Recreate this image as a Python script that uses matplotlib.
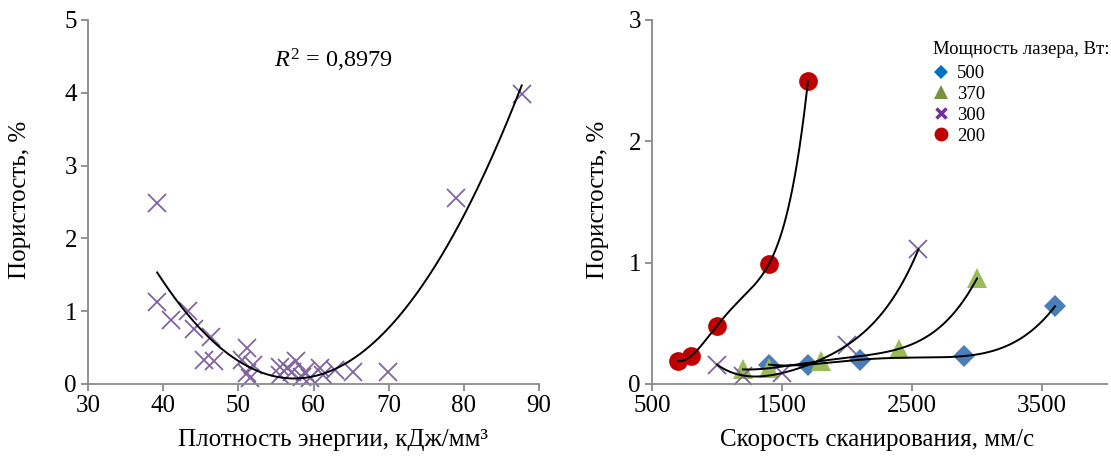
import numpy as np
import matplotlib
matplotlib.use("Agg")
import matplotlib.pyplot as plt
from matplotlib.lines import Line2D

plt.rcParams['font.family'] = ['Liberation Serif', 'DejaVu Serif']
plt.rcParams['mathtext.fontset'] = 'custom'
plt.rcParams['mathtext.rm'] = 'Liberation Serif'
plt.rcParams['mathtext.it'] = 'Liberation Serif:italic'

# ---- Left chart data: energy density vs porosity ----
energy = [39.2, 39.2, 41.1, 43.3, 44.1, 46.3, 45.4, 46.8, 51.2, 50.5, 52.0, 51.2,
          51.5, 55.5, 55.5, 57.7, 57.1, 58.9, 58.5, 60.9, 61.2, 62.8, 65.3, 69.9,
          78.9, 87.7, 56.5, 59.5]
porosity = [2.49, 1.12, 0.88, 1.00, 0.76, 0.65, 0.33, 0.32, 0.49, 0.33, 0.26, 0.15,
            0.08, 0.24, 0.12, 0.31, 0.17, 0.17, 0.10, 0.22, 0.13, 0.19, 0.17, 0.16,
            2.56, 3.98, 0.22, 0.08]
r2_label = "$\\mathit{R}^{\\mathrm{2}}$ = 0,8979"

# ---- Right chart data: scan speed vs porosity per laser power ----
powers = ["500", "370", "300", "200"]
speed_500 = [1400, 1700, 2100, 2900, 3600]
por_500 = [0.16, 0.16, 0.20, 0.23, 0.64]
speed_370 = [1200, 1400, 1800, 2400, 3000]
por_370 = [0.12, 0.13, 0.19, 0.29, 0.87]
speed_300 = [1000, 1200, 1500, 2000, 2550]
por_300 = [0.16, 0.07, 0.09, 0.32, 1.11]
speed_200 = [700, 800, 1000, 1400, 1700]
por_200 = [0.19, 0.23, 0.48, 0.99, 2.50]

W, H = 1111, 457
fig = plt.figure(figsize=(W / 100, H / 100), dpi=100)

def px_axes(l, r, t, b):
    return fig.add_axes([l / W, (H - b) / H, (r - l) / W, (b - t) / H])

def fpx(x, y):
    return (x / W, (H - y) / H)

axis_gray = '#898989'
def style(ax):
    for s in ['top', 'right']:
        ax.spines[s].set_visible(False)
    for s in ['left', 'bottom']:
        ax.spines[s].set_color(axis_gray)
        ax.spines[s].set_linewidth(1.3)
    ax.tick_params(direction='out', length=5, width=1.3, color=axis_gray,
                   labelsize=18, pad=3)

# Left axes
ax1 = px_axes(88, 539, 20, 384)
style(ax1)
ax1.set_xlim(30, 90)
ax1.set_ylim(0, 5)
ax1.set_xticks(np.arange(30, 91, 10))
ax1.set_yticks(np.arange(0, 6, 1))
ax1.plot(energy, porosity, linestyle='none', marker='x', markersize=13,
         markeredgewidth=1.3, color='#8064A2', clip_on=False)
coef = np.polyfit(energy, porosity, 2)
xs = np.linspace(min(energy), max(energy), 300)
ax1.plot(xs, np.polyval(coef, xs), color='black', lw=1.4)
fig.text(*fpx(274, 60), r2_label, fontsize=17.5, va='center', ha='left')
ax1.set_xlabel("Плотность энергии, кДж/мм³", fontsize=18)

# Right axes
ax2 = px_axes(652, 1107, 20, 384)
style(ax2)
ax2.set_xlim(500, 4000)
ax2.set_ylim(0, 3)
ax2.set_xticks([500, 1500, 2500, 3500])
ax2.set_yticks([0, 1, 2, 3])

series = [
    (speed_500, por_500, 'D', '#4A7EBB', 11.5),
    (speed_370, por_370, '^', '#9BBB59', 15),
    (speed_300, por_300, 'x', '#8064A2', 13),
    (speed_200, por_200, 'o', '#C00000', 13.5),
]
for xv, yv, m, c, ms in series:
    ax2.plot(xv, yv, linestyle='none', marker=m, markersize=ms, color=c,
             markeredgewidth=1.3 if m == 'x' else 0, clip_on=False)
for xv, yv, m, c, ms in series:
    cf = np.polyfit(xv, yv, 4)
    xx = np.linspace(min(xv), max(xv), 300)
    ax2.plot(xx, np.polyval(cf, xx), color='black', lw=1.4)

ax2.set_xlabel("Скорость сканирования, мм/с", fontsize=18)

ax1.xaxis.set_label_coords(*fpx(333, 440), transform=fig.transFigure)
ax2.xaxis.set_label_coords(*fpx(877, 440), transform=fig.transFigure)
ax1.xaxis.label.set_va('center')
ax2.xaxis.label.set_va('center')
ax1.set_ylabel("Пористость, %", fontsize=18)
ax2.set_ylabel("Пористость, %", fontsize=18)
ax1.yaxis.set_label_coords(*fpx(20, 200), transform=fig.transFigure)
ax2.yaxis.set_label_coords(*fpx(598, 200), transform=fig.transFigure)
ax1.yaxis.label.set_va('center')
ax2.yaxis.label.set_va('center')

handles = [
    Line2D([], [], linestyle='none', marker='D', markersize=7, color='#0070C0', markeredgewidth=0),
    Line2D([], [], linestyle='none', marker='^', markersize=10, color='#77933C', markeredgewidth=0),
    Line2D([], [], linestyle='none', marker='x', markersize=7, color='#7030A0', markeredgewidth=2.5),
    Line2D([], [], linestyle='none', marker='o', markersize=10, color='#C00000', markeredgewidth=0),
]
leg = ax2.legend(handles, powers, title="Мощность лазера, Вт:", loc='upper left',
                 bbox_to_anchor=fpx(933, 41), bbox_transform=fig.transFigure,
                 frameon=False, alignment='left', fontsize=13.5, title_fontsize=13.5,
                 handlelength=0.8, handletextpad=0.5, borderpad=0, labelspacing=0.2,
                 borderaxespad=0)
leg._legend_box.sep = 5

fig.savefig("out.png", dpi=100)
